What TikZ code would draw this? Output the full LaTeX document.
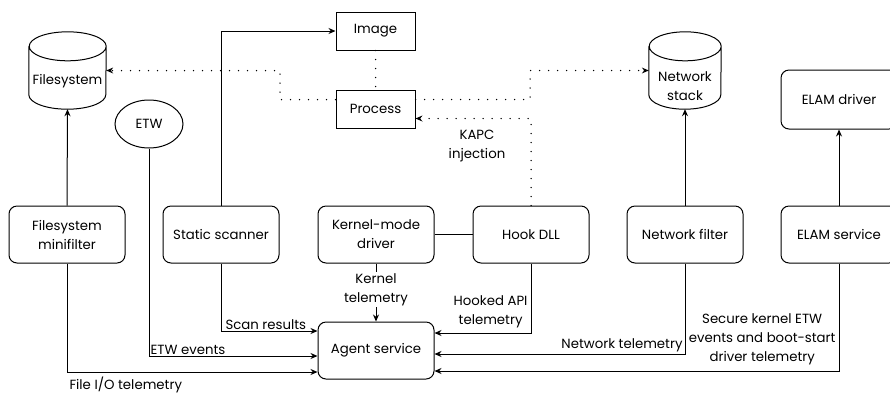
\documentclass[tikz,border=0pt]{standalone}
\usepackage{fontspec}
\setmainfont{Poppins}
\usetikzlibrary{shapes.geometric,arrows.meta}

% storage drum drawn around a named (borderless) node
\newcommand\drawdrum[3]{%
  \draw[line width=1pt]
    ([yshift=-#3]#1.north west) -- ([yshift=#3]#1.south west)
    arc[start angle=180, end angle=360, x radius=#2, y radius=#3]
    -- ([yshift=-#3]#1.north east)
    arc[start angle=0, end angle=360, x radius=#2, y radius=#3];}

\begin{document}
\begin{tikzpicture}[x=1pt, y=-1pt,
  every node/.style={font=\fontsize{13.3}{19}\selectfont},
  box/.style={draw, line width=1pt, rounded corners=8pt, minimum width=116pt,
    minimum height=57pt, align=center, inner sep=2pt},
  sbox/.style={draw, line width=1pt, minimum width=79pt, minimum height=38pt},
  drum/.style={minimum width=#1, minimum height=77pt, inner sep=0pt},
  conn/.style={line width=1pt, -{Stealth[length=7pt, width=6pt]}},
  link/.style={line width=1pt},
  dotline/.style={line width=1.5pt, dash pattern=on 0pt off 9pt, line cap=round},
  dotconn/.style={dotline, -{Stealth[length=7pt, width=6pt, line width=0pt]}},
  lbl/.style={inner sep=2pt, align=center}
]
\useasboundingbox (0,0) rectangle (890,392);

% top row
\node[sbox] (image) at (375.5,31) {Image};
\node[sbox] (process) at (375.5,109) {Process};
\node[drum=77pt] (fs) at (67.5,70.5) {};
\drawdrum{fs}{38.5pt}{14.5pt}
\node[lbl] (fstext) at (67.5,81) {Filesystem};
\node[drum=72pt] (ns) at (685,70.5) {};
\drawdrum{ns}{36pt}{14.5pt}
\node[lbl] (nstext) at (685,86.5) {Network\\stack};
\node[draw, ellipse, line width=1pt, minimum width=68pt, minimum height=48pt,
  inner sep=0pt] (etw) at (149,124) {ETW};
\node[box, minimum height=59pt] (elamd) at (839,99.5) {ELAM driver};

% component row
\node[box] (fsmf) at (67,234.5) {Filesystem\\minifilter};
\node[box] (ss) at (221,234.5) {Static scanner};
\node[box] (kmd) at (376,234.5) {Kernel-mode\\driver};
\node[box] (hook) at (531,234.5) {Hook DLL};
\node[box] (nf) at (685,234.5) {Network filter};
\node[box] (elams) at (839,234.5) {ELAM service};

% agent
\node[box] (agent) at (376,350.5) {Agent service};

% solid connectors
\draw[conn] (fsmf.north) -- (fs.south);
\draw[conn] (nf.north) -- (ns.south);
\draw[conn] (elams.north) -- (elamd.south);
\draw[conn] (ss.north) |- (image.west);
\draw[link] (kmd) -- (hook);

\draw[conn] (fsmf.south) |- ([yshift=-21.5pt]agent.west)
  node[pos=0.5, below right, lbl, yshift=-2pt] {File I/O telemetry};
\draw[conn] (etw.south) |- ([yshift=-5.5pt]agent.west)
  node[pos=0.5, above right, lbl, inner sep=1pt] {ETW events};
\draw[conn] (ss.south) |- ([yshift=19.5pt]agent.west)
  node[pos=0.5, above right, lbl, inner sep=1pt, xshift=3pt] {Scan results};
\draw[conn] (kmd.south) -- (agent.north)
  node[pos=0.45, fill=white, lbl, inner sep=1pt] {Kernel\\telemetry};
\draw[conn] (hook.south) |- ([yshift=17.5pt]agent.east)
  node[pos=0.5, above left, lbl, inner sep=3pt, yshift=1.5pt] {Hooked API\\telemetry};
\draw[conn] (nf.south) |- ([yshift=-3.5pt]agent.east)
  node[pos=0.5, above left, lbl] {Network telemetry};
\draw[conn] (elams.south) |- ([yshift=-20.5pt]agent.east)
  node[pos=0.5, above left, lbl, inner sep=3pt, yshift=3pt]
  {Secure kernel ETW\\events and boot-start\\driver telemetry};

% dotted relations around the process
\coordinate (fsbend) at (280,99.5);
\coordinate (nsbend) at (530,99.5);
\draw[dotline] (image.south) -- (process.north);
\draw[dotconn] ([yshift=9.5pt]process.west) -- (fsbend) |- (fs.east);
\draw[dotconn] ([yshift=9.5pt]process.east) -- (nsbend) |- (ns.west);
\draw[dotconn] (hook.north) |- ([yshift=-9.5pt]process.east);
\node[lbl] (kapc) at (477,146) {KAPC\\injection};
\end{tikzpicture}
\end{document}
